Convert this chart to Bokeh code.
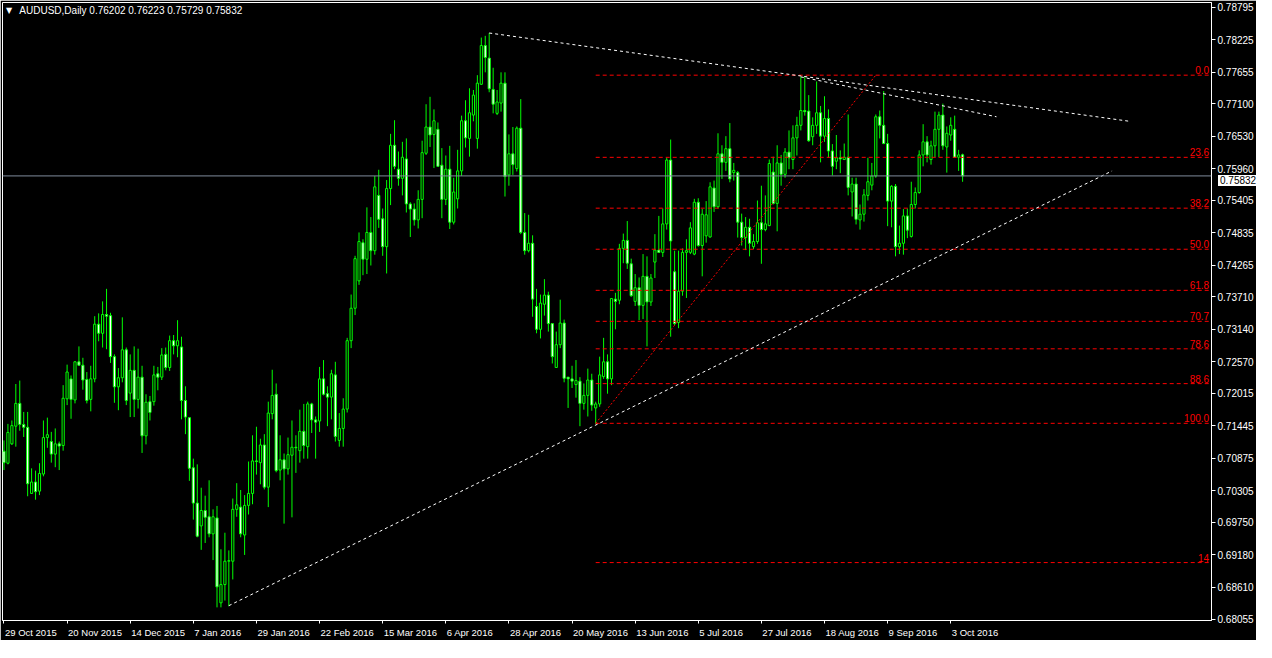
from bokeh.plotting import figure
from bokeh.models import (Range1d, FixedTicker, ColumnDataSource, Label, Div,
                          PrintfTickFormatter, Span)
from bokeh.layouts import column
from bokeh.core.properties import value
from bokeh.embed import file_html
from bokeh.resources import INLINE

# ---------------- data (AUDUSD daily) ----------------
opens = [
 0.7100,0.7079,0.7113,0.7144,0.7184,0.7147,0.7142,0.7026,0.7046,0.7030,
 0.7060,0.7124,0.7117,0.7095,0.7113,0.7110,0.7192,0.7227,0.7190,0.7257,
 0.7251,0.7226,0.7191,0.7227,0.7323,0.7307,0.7340,0.7338,0.7266,0.7213,
 0.7229,0.7278,0.7202,0.7242,0.7191,0.7230,0.7127,0.7187,0.7187,0.7236,
 0.7230,0.7270,0.7247,0.7294,0.7285,0.7283,0.7189,0.7159,0.7071,0.7009,
 0.6969,0.6996,0.6985,0.6955,0.6983,0.6834,0.6866,0.6907,0.6907,0.6998,
 0.7002,0.6953,0.7005,0.7026,0.7083,0.7080,0.7111,0.7037,0.7166,0.7200,
 0.7067,0.7085,0.7069,0.7093,0.7107,0.7101,0.7135,0.7108,0.7183,0.7155,
 0.7153,0.7227,0.7201,0.7195,0.7234,0.7119,0.7140,0.7174,0.7294,0.7351,
 0.7399,0.7466,0.7437,0.7484,0.7452,0.7549,0.7508,0.7459,0.7561,0.7637,
 0.7595,0.7579,0.7613,0.7534,0.7525,0.7506,0.7542,0.7623,0.7669,0.7656,
 0.7665,0.7602,0.7542,0.7595,0.7502,0.7543,0.7592,0.7680,0.7649,0.7690,
 0.7649,0.7744,0.7812,0.7790,0.7735,0.7693,0.7711,0.7746,0.7585,0.7622,
 0.7596,0.7667,0.7484,0.7452,0.7465,0.7354,0.7314,0.7358,0.7374,0.7324,
 0.7247,0.7287,0.7325,0.7230,0.7227,0.7217,0.7223,0.7184,0.7198,0.7225,
 0.7176,0.7183,0.7231,0.7257,0.7227,0.7367,0.7365,0.7456,0.7470,0.7429,
 0.7363,0.7387,0.7356,0.7407,0.7362,0.7432,0.7453,0.7449,0.7499,0.7611,
 0.7415,0.7326,0.7381,0.7449,0.7449,0.7446,0.7537,0.7461,0.7478,0.7476,
 0.7562,0.7529,0.7622,0.7607,0.7631,0.7589,0.7589,0.7502,0.7475,0.7493,
 0.7459,0.7468,0.7501,0.7489,0.7496,0.7590,0.7535,0.7606,0.7586,0.7625,
 0.7612,0.7650,0.7672,0.7698,0.7697,0.7652,0.7672,0.7694,0.7653,0.7684,
 0.7627,0.7609,0.7615,0.7612,0.7616,0.7555,0.7569,0.7506,0.7516,0.7549,
 0.7567,0.7583,0.7687,0.7672,0.7640,0.7539,0.7565,0.7459,0.7465,0.7513,
 0.7477,0.7533,0.7554,0.7620,0.7643,0.7612,0.7636,0.7665,0.7690,0.7634,
 0.7655,0.7665,0.7616,0.76202]
highs = [
 0.7119,0.7148,0.7154,0.7218,0.7224,0.7169,0.7169,0.7070,0.7066,0.7079,
 0.7154,0.7159,0.7134,0.7140,0.7117,0.7216,0.7252,0.7233,0.7258,0.7284,
 0.7264,0.7239,0.7250,0.7337,0.7342,0.7363,0.7385,0.7343,0.7270,0.7246,
 0.7335,0.7282,0.7270,0.7284,0.7280,0.7250,0.7200,0.7197,0.7250,0.7248,
 0.7281,0.7282,0.7303,0.7304,0.7330,0.7301,0.7214,0.7159,0.7087,0.7077,
 0.7036,0.7022,0.7049,0.6998,0.7004,0.6928,0.6957,0.6926,0.7017,0.7044,
 0.7032,0.7023,0.7082,0.7128,0.7143,0.7122,0.7130,0.7187,0.7243,0.7219,
 0.7128,0.7096,0.7124,0.7154,0.7128,0.7173,0.7183,0.7187,0.7185,0.7161,
 0.7248,0.7260,0.7214,0.7243,0.7257,0.7167,0.7193,0.7299,0.7375,0.7443,
 0.7484,0.7472,0.7528,0.7511,0.7583,0.7594,0.7526,0.7576,0.7657,0.7681,
 0.7626,0.7643,0.7649,0.7537,0.7535,0.7558,0.7645,0.7709,0.7722,0.7700,
 0.7677,0.7632,0.7619,0.7636,0.7580,0.7629,0.7689,0.7716,0.7737,0.7734,
 0.7760,0.7826,0.7829,0.7834,0.7773,0.7734,0.7765,0.7765,0.7656,0.7669,
 0.7670,0.7718,0.7518,0.7515,0.7479,0.7385,0.7375,0.7402,0.7380,0.7325,
 0.7310,0.7366,0.7331,0.7230,0.7250,0.7260,0.7230,0.7219,0.7245,0.7236,
 0.7187,0.7266,0.7299,0.7270,0.7368,0.7378,0.7464,0.7482,0.7504,0.7438,
 0.7411,0.7405,0.7446,0.7442,0.7411,0.7481,0.7513,0.7526,0.7615,0.7647,
 0.7452,0.7452,0.7456,0.7472,0.7502,0.7543,0.7544,0.7525,0.7539,0.7572,
 0.7575,0.7658,0.7637,0.7653,0.7676,0.7606,0.7592,0.7517,0.7511,0.7508,
 0.7481,0.7540,0.7566,0.7549,0.7612,0.7617,0.7637,0.7620,0.7632,0.7663,
 0.7672,0.7687,0.7757,0.7757,0.7725,0.7686,0.7749,0.7706,0.7723,0.7700,
 0.7639,0.7655,0.7628,0.7640,0.7691,0.7580,0.7580,0.7533,0.7560,0.7615,
 0.7606,0.7691,0.7698,0.7732,0.7657,0.7567,0.7569,0.7496,0.7525,0.7526,
 0.7573,0.7563,0.7628,0.7674,0.7653,0.7645,0.7696,0.7696,0.7710,0.7670,
 0.7686,0.7689,0.7629,0.76223]
lows = [
 0.7067,0.7077,0.7111,0.7108,0.7136,0.7125,0.7021,0.7025,0.7015,0.7023,
 0.7056,0.7106,0.7080,0.7072,0.7067,0.7101,0.7181,0.7157,0.7184,0.7250,
 0.7208,0.7184,0.7170,0.7221,0.7293,0.7282,0.7279,0.7255,0.7185,0.7172,
 0.7221,0.7181,0.7160,0.7160,0.7175,0.7097,0.7112,0.7154,0.7180,0.7207,
 0.7225,0.7242,0.7241,0.7270,0.7265,0.7156,0.7130,0.7048,0.6980,0.6949,
 0.6927,0.6939,0.6949,0.6909,0.6826,0.6826,0.6838,0.6828,0.6875,0.6985,
 0.6949,0.6918,0.6989,0.7007,0.7059,0.7042,0.7033,0.7002,0.7156,0.7063,
 0.7049,0.6973,0.7059,0.6984,0.7062,0.7080,0.7087,0.7087,0.7132,0.7087,
 0.7134,0.7198,0.7144,0.7156,0.7117,0.7108,0.7108,0.7168,0.7281,0.7339,
 0.7392,0.7409,0.7411,0.7426,0.7445,0.7492,0.7443,0.7412,0.7532,0.7595,
 0.7566,0.7549,0.7519,0.7476,0.7496,0.7491,0.7509,0.7620,0.7634,0.7597,
 0.7599,0.7509,0.7532,0.7490,0.7498,0.7526,0.7583,0.7633,0.7617,0.7679,
 0.7631,0.7743,0.7765,0.7730,0.7693,0.7690,0.7696,0.7547,0.7566,0.7585,
 0.7591,0.7481,0.7445,0.7449,0.7336,0.7307,0.7298,0.7338,0.7310,0.7254,
 0.7247,0.7281,0.7221,0.7176,0.7211,0.7194,0.7144,0.7173,0.7161,0.7171,
 0.7148,0.7178,0.7227,0.7201,0.7216,0.7314,0.7358,0.7430,0.7420,0.7371,
 0.7355,0.7330,0.7332,0.7284,0.7355,0.7404,0.7448,0.7441,0.7489,0.7301,
 0.7321,0.7316,0.7373,0.7369,0.7446,0.7444,0.7459,0.7407,0.7466,0.7475,
 0.7520,0.7526,0.7578,0.7592,0.7572,0.7575,0.7475,0.7461,0.7453,0.7442,
 0.7455,0.7464,0.7429,0.7486,0.7495,0.7533,0.7486,0.7566,0.7580,0.7595,
 0.7595,0.7619,0.7663,0.7689,0.7643,0.7637,0.7657,0.7607,0.7643,0.7615,
 0.7584,0.7595,0.7588,0.7611,0.7549,0.7512,0.7498,0.7489,0.7503,0.7540,
 0.7558,0.7580,0.7649,0.7639,0.7495,0.7493,0.7442,0.7446,0.7445,0.7474,
 0.7475,0.7526,0.7552,0.7600,0.7607,0.7603,0.7616,0.7616,0.7629,0.7589,
 0.7645,0.7615,0.7592,0.75729]
closes = [
 0.7080,0.7133,0.7145,0.7184,0.7147,0.7142,0.7043,0.7046,0.7029,0.7061,
 0.7124,0.7129,0.7095,0.7113,0.7109,0.7193,0.7239,0.7191,0.7257,0.7251,
 0.7225,0.7189,0.7227,0.7323,0.7307,0.7340,0.7337,0.7266,0.7213,0.7229,
 0.7278,0.7189,0.7242,0.7191,0.7230,0.7127,0.7186,0.7168,0.7234,0.7230,
 0.7269,0.7247,0.7294,0.7285,0.7294,0.7189,0.7160,0.7070,0.7009,0.6951,
 0.6996,0.6984,0.6955,0.6985,0.6862,0.6866,0.6907,0.6908,0.6998,0.7006,
 0.6955,0.7005,0.7026,0.7083,0.7082,0.7111,0.7037,0.7167,0.7198,0.7066,
 0.7085,0.7069,0.7094,0.7107,0.7106,0.7135,0.7110,0.7183,0.7155,0.7151,
 0.7227,0.7200,0.7195,0.7236,0.7126,0.7140,0.7174,0.7294,0.7351,0.7438,
 0.7468,0.7437,0.7484,0.7452,0.7564,0.7507,0.7459,0.7561,0.7637,0.7600,
 0.7579,0.7616,0.7534,0.7525,0.7506,0.7542,0.7624,0.7669,0.7655,0.7680,
 0.7600,0.7542,0.7595,0.7502,0.7555,0.7592,0.7680,0.7650,0.7694,0.7725,
 0.7746,0.7812,0.7791,0.7736,0.7709,0.7713,0.7746,0.7582,0.7622,0.7603,
 0.7667,0.7484,0.7452,0.7465,0.7367,0.7314,0.7360,0.7374,0.7324,0.7266,
 0.7287,0.7325,0.7228,0.7227,0.7223,0.7224,0.7184,0.7198,0.7225,0.7181,
 0.7183,0.7234,0.7257,0.7227,0.7368,0.7363,0.7456,0.7470,0.7430,0.7373,
 0.7387,0.7356,0.7407,0.7362,0.7404,0.7453,0.7449,0.7499,0.7611,0.7469,
 0.7324,0.7381,0.7449,0.7452,0.7492,0.7537,0.7461,0.7516,0.7515,0.7564,
 0.7529,0.7622,0.7607,0.7631,0.7578,0.7593,0.7502,0.7475,0.7493,0.7465,
 0.7468,0.7501,0.7489,0.7499,0.7605,0.7535,0.7606,0.7586,0.7625,0.7615,
 0.7650,0.7672,0.7698,0.7696,0.7645,0.7672,0.7694,0.7653,0.7684,0.7627,
 0.7600,0.7615,0.7613,0.7616,0.7563,0.7569,0.7507,0.7516,0.7550,0.7573,
 0.7583,0.7687,0.7672,0.7640,0.7539,0.7565,0.7459,0.7465,0.7513,0.7488,
 0.7533,0.7554,0.7620,0.7643,0.7620,0.7636,0.7665,0.7690,0.7636,0.7658,
 0.7672,0.7616,0.7620,0.75832]

date_labels = ["29 Oct 2015", "20 Nov 2015", "14 Dec 2015", "7 Jan 2016", "29 Jan 2016",
               "22 Feb 2016", "15 Mar 2016", "6 Apr 2016", "28 Apr 2016", "20 May 2016",
               "13 Jun 2016", "5 Jul 2016", "27 Jul 2016", "18 Aug 2016", "9 Sep 2016",
               "3 Oct 2016"]
label_bars = [0, 16, 32, 48, 64, 80, 96, 112, 128, 144, 160, 176, 192, 208, 224, 240]

price_ticks = [0.78795, 0.78225, 0.77655, 0.77100, 0.76530, 0.75960, 0.75405, 0.74835,
               0.74265, 0.73710, 0.73140, 0.72570, 0.72015, 0.71445, 0.70875, 0.70305,
               0.69750, 0.69180, 0.68610, 0.68055]

bid_price = 0.75832
bid_text = "0.75832"
title_text = "AUDUSD,Daily  0.76202 0.76223 0.75729 0.75832"

# Fibonacci retracement (low -> high)
fib_bar_low, fib_low = 150, 0.7149
fib_bar_high, fib_high = 221, 0.7760
fib_levels = [0.0, 23.6, 38.2, 50.0, 61.8, 70.7, 78.6, 88.6, 100.0, 140.0]
fib_texts = ["0.0", "23.6", "38.2", "50.0", "61.8", "70.7", "78.6", "88.6", "100.0", "14"]

# trend lines (bar index, price)
upper_line_x, upper_line_y = [123, 285.4], [0.7834, 0.7679]
upper2_line_x, upper2_line_y = [202, 251.6], [0.7757, 0.7687]
lower_line_x, lower_line_y = [57, 280.9], [0.6829, 0.7592]

# ---------------- figure geometry ----------------
X0, X1 = -0.375, 306.1
Y0, Y1 = 0.680296, 0.788754
W, H = 1256, 640
BL, BT, BR, BB = 2, 2, 44, 20        # borders (left, top, right/axis, bottom/axis)
FW, FH = W - BL - BR, H - BT - BB    # plot frame size
LIME = "#00FF00"
FONT = "Liberation Sans"
ppx = FW / (X1 - X0)
ppy = (Y1 - Y0) / FH

p = figure(width=W, height=H, output_backend="svg", toolbar_location=None,
           title=None, x_range=Range1d(X0, X1), y_range=Range1d(Y0, Y1),
           y_axis_location="right", background_fill_color="black",
           border_fill_color="black", min_border_left=BL, min_border_top=BT,
           min_border_right=BR, min_border_bottom=BB)
p.outline_line_color = "white"
p.outline_line_width = 1
p.grid.visible = False

# y axis (price scale on the right)
ya = p.yaxis[0]
ya.ticker = FixedTicker(ticks=price_ticks)
ya.formatter = PrintfTickFormatter(format="%.5f")
ya.axis_line_color = "white"
ya.major_tick_line_color = "white"
ya.major_tick_out = 4
ya.major_tick_in = 0
ya.minor_tick_line_color = None
ya.major_label_standoff = 2
ya.major_label_text_color = "white"
ya.major_label_text_font = FONT
ya.major_label_text_font_size = "10px"

# x axis: tick marks (minor ticks) at the labelled bars, labels start at the tick
CHAR_W = {" ": 278, "O": 778, "c": 500, "t": 278, "N": 722, "o": 556, "v": 500,
          "D": 722, "e": 556, "J": 500, "a": 556, "n": 556, "F": 611, "b": 556,
          "M": 833, "r": 333, "A": 667, "p": 556, "y": 500, "u": 556, "l": 222,
          "g": 556, "S": 667}
DATE_FS = 9.5


def text_width(s):
    return sum(CHAR_W.get(ch, 556) for ch in s) * DATE_FS / 1000.0


label_pos = [round(b + (text_width(t) / 2.0 + 1.0) / ppx, 4)
             for b, t in zip(label_bars, date_labels)]
xa = p.xaxis[0]
xa.ticker = FixedTicker(ticks=label_pos, minor_ticks=label_bars)
xa.major_label_overrides = {pos: t for pos, t in zip(label_pos, date_labels)}
xa.axis_line_color = "white"
xa.major_tick_line_color = None
xa.major_tick_out = 3
xa.major_tick_in = 0
xa.minor_tick_line_color = "white"
xa.minor_tick_out = 3
xa.minor_tick_in = 0
xa.major_label_standoff = 3
xa.major_label_text_color = "white"
xa.major_label_text_font = FONT
xa.major_label_text_font_size = "%spx" % DATE_FS

# candles
idx = list(range(len(opens)))
body_top = [max(o, c) for o, c in zip(opens, closes)]
body_bot = [min(o, c) for o, c in zip(opens, closes)]
fills = ["black" if c >= o else "white" for o, c in zip(opens, closes)]
src = ColumnDataSource(dict(x=idx, h=highs, l=lows, t=body_top, b=body_bot, f=fills))
p.segment(x0="x", y0="l", x1="x", y1="h", source=src, line_color=LIME, line_width=1)
p.vbar(x="x", width=0.55, top="t", bottom="b", fill_color="f", line_color=LIME,
       line_width=1, source=src)

# bid line
p.add_layout(Span(location=bid_price, dimension="width", line_color="#7F8B9C",
                  line_width=1))

# fibonacci
fib_prices = [fib_high - (fib_high - fib_low) * lv / 100.0 for lv in fib_levels]
fsrc = ColumnDataSource(dict(y=fib_prices, t=fib_texts,
                             x0=[fib_bar_low] * len(fib_prices),
                             x1=[X1] * len(fib_prices),
                             tx=[X1 - 0.6] * len(fib_prices)))
p.segment(x0="x0", y0="y", x1="x1", y1="y", source=fsrc, line_color="#FF0000",
          line_width=1, line_dash="4 3")
p.line([fib_bar_low, fib_bar_high], [fib_low, fib_high], line_color="#FF0000",
       line_width=1, line_dash="2 2")
p.text(x="tx", y="y", text="t", source=fsrc, text_color="#FF0000",
       text_font=value(FONT), text_font_size="10px", text_align="right",
       text_baseline="bottom", y_offset=-1)

# trend lines
for xs, ys in [(upper_line_x, upper_line_y), (upper2_line_x, upper2_line_y),
               (lower_line_x, lower_line_y)]:
    p.line(xs, ys, line_color="white", line_width=1, line_dash="3 3")

# header text
p.add_layout(Label(x=1.3, y=Y1 - 8 * ppy, text="\u25bc", text_color="white",
                   text_font="DejaVu Sans", text_font_size="8px",
                   text_baseline="middle", text_align="center"))
p.add_layout(Label(x=3.9, y=Y1 - 8 * ppy, text=title_text, text_color="white",
                   text_font=FONT, text_font_size="10px",
                   text_baseline="middle", text_align="left"))

# current price box on the price scale (positioned over the axis panel)
bid_top = BT + (Y1 - bid_price) / ppy - 5.5
bid_box = Div(text=bid_text, styles={
    "position": "absolute", "left": "%dpx" % (BL + FW + 1), "top": "%.0fpx" % bid_top,
    "width": "%dpx" % (BR - 1), "height": "11px", "background-color": "white",
    "color": "black", "font-family": "'Liberation Sans'", "font-size": "10px",
    "line-height": "11px", "padding-left": "2px", "box-sizing": "border-box",
    "z-index": "10", "overflow": "hidden"})

layout = column(p, bid_box, spacing=0)
open("out.html", "w").write(file_html(layout, INLINE))
